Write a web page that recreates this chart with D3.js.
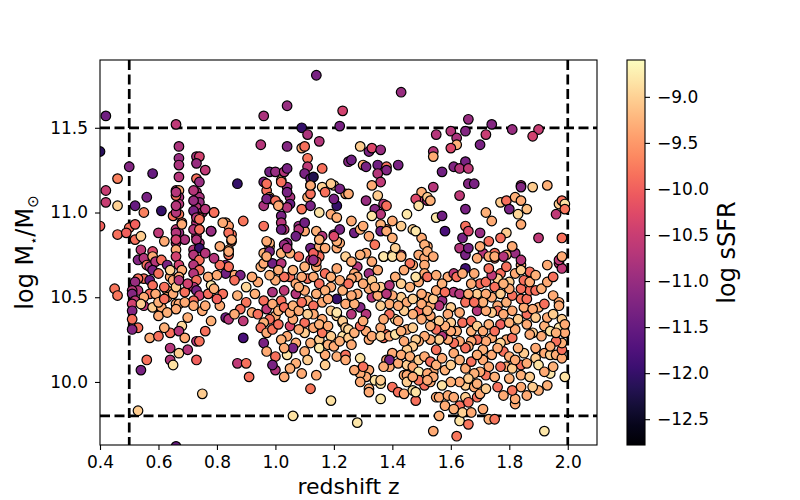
<!DOCTYPE html>
<html>
<head>
<meta charset="utf-8">
<script src="https://cdn.jsdelivr.net/npm/d3@7"></script>
<style>
  body { margin: 0; background: #fff; }
  text { font-family: "DejaVu Sans", sans-serif; fill: #000; }
</style>
</head>
<body>
<svg id="chart" width="800" height="500"></svg>
<script>
// tick values
const xTicks = [0.4, 0.6, 0.8, 1.0, 1.2, 1.4, 1.6, 1.8, 2.0];
const yTicks = [10.0, 10.5, 11.0, 11.5];
const cbTicks = [-12.5, -12.0, -11.5, -11.0, -10.5, -10.0, -9.5, -9.0];

// selection box: mass cuts and redshift cuts
const massCuts = [9.8, 11.5];
const zCuts = [0.5, 2.0];

// galaxies: [redshift, log M*, log sSFR]
const lowZ = [
  [0.42,11.57,-11.4],[0.40,11.36,-12.1],[0.66,11.52,-10.6],[0.50,11.27,-11.2],[0.46,11.20,-9.7],
  [0.58,11.23,-11.5],[0.42,11.13,-10.5],[0.42,11.06,-10.5],[0.40,10.92,-10.0],[0.46,11.04,-9.0],
  [0.52,11.04,-11.5],[0.55,11.00,-9.7],[0.61,11.01,-12.0],[0.56,11.09,-11.3],
  [0.67,11.39,-10.8],[0.67,11.32,-11.0],[0.67,11.28,-10.8],[0.67,11.21,-10.7],[0.66,11.13,-10.6],
  [0.67,11.13,-9.35],[0.67,11.09,-10.8],[0.67,11.05,-10.7],[0.65,10.98,-9.85],[0.67,10.99,-9.8],
  [0.68,10.94,-9.8],[0.66,10.90,-10.6],[0.67,10.88,-11.0],[0.66,10.84,-10.7],[0.69,10.84,-10.8],
  [0.73,11.33,-10.8],[0.74,11.33,-10.4],[0.73,11.29,-11.0],[0.76,11.25,-10.6],[0.73,11.20,-9.85],
  [0.74,11.18,-11.0],[0.73,11.12,-10.7],[0.74,11.09,-10.8],[0.74,11.06,-11.0],[0.73,11.03,-10.7],
  [0.75,11.00,-10.8],[0.73,10.98,-11.3],[0.74,10.97,-10.0],[0.73,10.94,-10.7],[0.74,10.90,-9.8],
  [0.73,10.86,-10.7],[0.74,10.82,-10.7],
  [0.79,11.00,-9.05],[0.78,10.89,-11.4],[0.76,11.02,-10.7],[0.83,10.94,-9.35],[0.84,10.92,-9.45],
  [0.85,10.87,-9.8],[0.85,10.83,-9.85],[0.87,11.17,-12.0],[0.89,10.95,-9.8],
  [0.46,10.87,-9.85],[0.50,10.91,-9.85],[0.49,10.88,-10.0],[0.52,10.93,-10.0],[0.52,10.84,-9.85],
  [0.54,10.86,-9.05],[0.60,10.88,-10.6],[0.62,10.83,-9.35],[0.54,10.78,-10.6],[0.53,10.72,-11.2],
  [0.55,10.73,-10.7],[0.58,10.77,-10.3],[0.58,10.74,-9.35],[0.56,10.69,-9.85],[0.57,10.68,-10.7],
  [0.59,10.71,-10.7],[0.61,10.72,-9.85],[0.63,10.69,-11.3],[0.58,10.66,-11.3],[0.60,10.64,-9.85],
  [0.55,10.61,-9.85],[0.53,10.61,-9.85],[0.52,10.59,-11.0],[0.53,10.54,-10.7],[0.57,10.60,-11.5],
  [0.58,10.57,-9.85],[0.57,10.52,-9.85],[0.55,10.50,-9.35],
  [0.45,10.55,-9.8],[0.46,10.51,-9.8],[0.51,10.54,-10.7],[0.51,10.52,-11.2],[0.52,10.48,-10.6],
  [0.51,10.46,-10.4],[0.51,10.42,-11.2],[0.51,10.37,-9.85],[0.53,10.32,-9.85],[0.51,10.31,-11.2],
  [0.57,10.26,-9.35],[0.55,10.45,-10.6],[0.58,10.44,-9.05],[0.61,10.43,-9.85],[0.56,10.13,-9.85],
  [0.54,10.07,-11.3],[0.53,9.83,-9.05],[0.64,10.20,-10.7],[0.64,10.13,-10.7],[0.65,10.10,-8.85],
  [0.67,10.17,-9.05],[0.64,10.29,-9.85],[0.68,10.33,-8.95],[0.67,10.30,-10.7],[0.73,10.24,-10.7],
  [0.74,10.24,-9.85],[0.73,10.13,-10.0],[0.75,9.93,-9.05],[0.66,9.62,-11.5],
  [0.54,10.46,-9.05],[0.61,10.44,-9.35],[0.63,10.54,-9.35],[0.62,10.56,-9.85],[0.64,10.62,-9.35],
  [0.64,10.66,-9.0],[0.65,10.60,-9.35],[0.63,10.50,-9.35],[0.65,10.52,-9.35],[0.66,10.56,-9.05],
  [0.66,10.46,-9.35],[0.67,10.46,-9.35],[0.66,10.43,-9.35],[0.66,10.82,-10.7],[0.66,10.78,-9.35],
  [0.66,10.74,-10.4],[0.67,10.69,-10.4],[0.68,10.66,-9.35],[0.67,10.62,-9.35],[0.67,10.60,-10.7],
  [0.68,10.93,-9.35],[0.66,11.00,-10.7],[0.66,11.04,-10.7],[0.66,11.10,-9.85],[0.66,11.12,-10.7],
  [0.66,10.88,-10.7],[0.66,10.84,-10.4],
  [0.72,11.13,-10.7],[0.72,11.07,-11.0],[0.72,11.01,-11.3],[0.73,10.97,-10.7],[0.74,10.96,-9.85],
  [0.72,10.90,-10.7],[0.74,10.90,-9.85],[0.73,10.84,-10.7],[0.72,10.78,-10.7],[0.74,10.79,-12.0],
  [0.72,10.75,-10.7],[0.74,10.72,-9.85],[0.72,10.69,-10.7],[0.74,10.66,-9.85],[0.72,10.64,-10.7],
  [0.73,10.60,-9.85],[0.72,10.56,-10.7],[0.73,10.54,-11.3],[0.74,10.51,-10.4],[0.72,10.48,-9.85],
  [0.72,10.45,-9.35],[0.75,10.42,-9.35],
  [0.76,10.76,-10.7],[0.77,10.62,-9.35],[0.78,10.57,-8.8],[0.78,10.89,-11.0],[0.79,11.00,-9.85],
  [0.82,10.94,-9.35],[0.84,10.88,-9.85],[0.85,10.84,-9.35],[0.84,10.78,-9.35],[0.84,10.75,-9.85],
  [0.83,10.69,-11.3],[0.86,10.63,-9.35],[0.88,10.63,-11.3],[0.83,10.64,-11.4],[0.90,10.56,-8.95],
  [0.86,10.60,-9.85],
  [0.87,10.11,-10.6],[0.90,10.11,-9.85],[0.91,10.03,-9.85],[0.89,10.26,-11.8],[0.83,10.38,-11.4],
  [0.84,10.37,-10.7],[0.81,10.45,-9.35],[0.82,10.52,-9.85],[0.80,10.49,-10.0],[0.84,10.68,-9.85],
  [0.84,10.77,-9.35],[0.90,10.47,-9.8],[0.89,10.36,-10.6],
  [0.59,10.52,-9.35],[0.60,10.47,-9.3],[0.62,10.49,-9.85],[0.60,10.39,-9.35],[0.63,10.41,-9.3],
  [0.69,10.47,-9.35],[0.69,10.53,-9.85],[0.70,10.58,-10.4],[0.70,10.38,-9.3],[0.76,10.45,-9.35],
  [0.77,10.52,-9.85],[0.79,10.55,-9.3],[0.80,10.63,-9.35],[0.81,10.69,-9.85],[0.79,10.73,-10.7],
  [0.81,10.80,-9.35],[0.87,10.51,-9.3],[0.88,10.43,-9.85],[0.86,10.40,-9.35],[0.78,10.36,-9.3],
  [0.76,10.30,-9.85],[0.69,10.26,-9.35],[0.70,10.19,-10.7],[0.62,10.32,-9.3],[0.60,10.27,-9.85]
];

const midZ = [
  [0.92,10.41,-9.35],[0.94,10.59,-9.35],[0.96,10.48,-9.85],[0.97,10.43,-10.6],[0.95,10.68,-9.3],
  [0.96,10.70,-9.35],[0.99,10.70,-11.4],[0.98,10.80,-9.3],[0.96,10.76,-9.3],[1.02,10.70,-10.7],
  [1.04,10.81,-11.3],[1.05,10.62,-9.8],[1.07,10.58,-9.35],[1.07,10.52,-10.7],[1.10,10.54,-9.35],
  [1.11,10.48,-9.3],[1.03,10.54,-10.6],[0.99,10.53,-10.8],[1.02,10.48,-9.85],[1.00,10.39,-9.35],
  [0.98,10.37,-9.85],[0.96,10.35,-9.3],[0.95,10.32,-9.85],[0.97,10.29,-9.35],[0.99,10.31,-9.8],
  [0.96,10.23,-11.3],[1.00,10.15,-9.85],[1.04,10.27,-9.35],[1.05,10.33,-10.3],[1.07,10.23,-9.35],
  [1.10,10.29,-9.05],[1.10,10.35,-9.85],[1.06,10.37,-9.35],[1.12,10.23,-9.3],[1.13,10.32,-9.35],
  [1.15,10.25,-9.05],[1.16,10.29,-9.8],[1.16,10.37,-9.35],[1.19,10.42,-9.05],[1.21,10.39,-8.95],
  [1.21,10.49,-12.0],[1.21,10.41,-8.8],[1.23,10.35,-8.8],[1.16,10.47,-9.35],[1.19,10.56,-9.35],
  [1.11,10.61,-9.85],[1.14,10.68,-9.35],[1.17,10.64,-9.85],[1.21,10.67,-9.35],[1.12,10.72,-10.7],
  [1.15,10.74,-9.85],[1.21,10.79,-9.35],[1.22,10.82,-9.35],
  [1.00,10.07,-10.7],[1.03,10.03,-9.35],[1.04,10.16,-8.85],[1.07,10.11,-9.3],[1.06,9.80,-8.85],
  [1.12,9.96,-9.8],[1.19,9.89,-8.85],[1.14,10.04,-9.35],[1.17,10.10,-9.05],[1.17,10.16,-9.35],
  [1.21,10.15,-9.3],[1.06,10.20,-11.3],[0.99,10.10,-11.3],[1.15,10.20,-8.8],[1.24,10.16,-9.85],
  [1.24,10.13,-9.35],[1.29,10.14,-8.85],[1.29,10.07,-9.35],[1.30,10.04,-9.85],[1.32,10.07,-9.35],
  [1.34,10.01,-8.85],[1.36,9.99,-8.85],[1.32,9.96,-9.35],[1.40,9.97,-9.85],[1.39,10.09,-9.35],
  [1.40,10.17,-9.35],[1.38,10.13,-9.35],[1.37,10.26,-9.85],[1.38,10.28,-9.85],[1.36,10.32,-9.35],
  [1.41,10.37,-8.85],[1.32,10.25,-9.35],[1.28,9.76,-8.8],[1.32,9.94,-9.35],[1.36,9.90,-8.8],
  [1.31,10.03,-9.35],[1.29,10.05,-9.35],[1.27,10.07,-9.35],[1.29,10.00,-9.35],[1.30,10.09,-9.85],
  [1.39,10.13,-11.3],[1.37,10.09,-9.35],[1.42,10.11,-9.35],[1.36,10.01,-9.05],[1.42,9.94,-9.85],
  [1.44,9.93,-9.35],[1.44,10.04,-9.35],
  [1.28,10.68,-10.7],[1.32,10.64,-11.0],[1.33,10.71,-9.35],[1.37,10.74,-9.35],[1.40,10.75,-9.35],
  [1.43,10.75,-10.6],[1.33,10.50,-10.7],[1.32,10.55,-9.35],[1.29,10.44,-11.2],[1.26,10.40,-10.7],
  [1.24,10.46,-9.35],[1.28,10.52,-9.35],[1.27,10.64,-9.35],[1.31,10.30,-9.35],[1.33,10.27,-9.35],
  [1.36,10.27,-9.05],[1.39,10.27,-9.35],[1.23,10.27,-8.85],[1.23,10.36,-9.05],[1.24,10.32,-9.05],
  [1.25,10.31,-8.95],[1.43,10.50,-9.05],[1.40,10.51,-9.35],[1.39,10.46,-9.35],[1.39,10.40,-9.85],
  [1.42,10.36,-9.35],[1.37,10.37,-9.35],[1.36,10.45,-9.05],[1.35,10.51,-9.35],[1.36,10.56,-9.05],
  [1.39,10.57,-10.7],[1.38,10.52,-10.7],[1.31,10.40,-10.7],[1.28,10.62,-9.35],[1.26,10.61,-9.35],
  [1.14,11.81,-11.3],[1.04,11.63,-11.0],[0.96,11.57,-10.8],[1.23,11.60,-10.4],[1.09,11.50,-12.0],
  [1.22,11.51,-11.3],[1.11,11.46,-10.8],[1.15,11.42,-10.7],[0.95,11.40,-10.7],[1.04,11.39,-11.2],
  [1.09,11.38,-9.35],[1.10,11.39,-9.85],[1.25,11.30,-11.2],
  [0.96,11.04,-10.8],[0.96,11.18,-11.3],[0.97,11.13,-9.85],[0.98,11.09,-9.35],[0.98,11.24,-11.4],
  [1.00,11.24,-11.0],[1.02,11.19,-9.3],[1.03,11.24,-10.7],[1.04,11.26,-11.3],[1.04,11.15,-11.0],
  [1.05,11.09,-10.8],[1.05,11.05,-11.5],[1.01,11.05,-9.85],[0.98,11.08,-11.7],[1.02,10.98,-11.3],
  [1.02,10.94,-10.7],[1.03,10.90,-10.6],[0.98,10.82,-9.3],[1.04,10.82,-11.2],
  [1.11,11.32,-9.8],[1.11,11.27,-10.6],[1.10,11.23,-11.3],[1.12,11.20,-11.5],[1.12,11.16,-10.6],
  [1.16,11.26,-9.85],[1.11,11.09,-9.35],[1.09,11.02,-9.8],[1.12,11.04,-11.3],[1.15,11.00,-8.85],
  [1.16,11.15,-9.0],[1.20,11.16,-8.95],[1.19,10.99,-9.35],[1.21,11.04,-12.0],[1.21,10.97,-9.3],
  [1.24,11.11,-9.45],[1.08,10.92,-11.0],[1.10,10.89,-9.35],[1.14,10.89,-9.3],[1.16,10.86,-10.7],
  [1.20,10.87,-11.3],[1.21,10.83,-9.3],
  [0.96,10.92,-9.85],[1.02,10.90,-11.4],[0.97,10.83,-9.35],[1.03,10.81,-11.0],[0.98,10.77,-11.3],
  [0.97,10.74,-9.35],[1.02,10.76,-9.3],[1.05,10.76,-9.3],[1.04,10.79,-10.7],[1.08,10.90,-10.7],
  [1.07,10.86,-11.4],[1.10,10.94,-11.4],[1.08,10.74,-9.85],[1.12,10.79,-11.4],[1.13,10.76,-10.0],
  [1.14,10.71,-9.85],[1.13,10.72,-11.0],[1.15,10.80,-9.3],[1.17,10.79,-9.35],[1.15,10.84,-9.3],
  [1.22,10.90,-11.3],[1.20,10.86,-10.3],[1.24,10.74,-9.0],[1.27,10.88,-11.4],[1.29,10.90,-9.3],
  [1.32,10.86,-9.35],[1.34,10.81,-9.8],[1.31,10.76,-9.35],[1.38,10.90,-9.8],[1.41,10.79,-9.0],
  [1.37,10.74,-8.8],[1.40,10.74,-8.85],[1.43,10.74,-9.3],
  [0.97,11.17,-9.85],[1.02,11.18,-9.85],[1.04,11.12,-11.3],[0.97,11.08,-11.3],[1.00,11.07,-9.85],
  [1.04,11.03,-10.7],[1.01,11.04,-9.35],[1.12,11.11,-9.85],[1.13,11.21,-12.2],[1.12,11.16,-9.35],
  [1.19,11.17,-9.05],[1.17,11.12,-9.85],[1.22,11.14,-11.3],[1.25,11.11,-9.35],[1.20,11.08,-11.3],
  [1.26,10.95,-9.35],
  [1.26,11.31,-11.4],[1.29,11.39,-9.05],[1.32,11.36,-11.3],[1.33,11.38,-10.3],[1.36,11.37,-11.0],
  [1.30,11.28,-9.35],[1.31,11.27,-11.3],[1.35,11.28,-11.4],[1.38,11.27,-9.85],[1.38,11.25,-11.2],
  [1.35,11.23,-10.7],[1.42,11.28,-11.3],[1.36,11.18,-10.6],[1.33,11.16,-9.35],[1.35,11.10,-9.05],
  [1.31,11.07,-11.0],[1.34,11.02,-11.2],[1.37,11.05,-10.7],[1.38,11.04,-9.85],[1.36,10.99,-10.7],
  [1.33,10.98,-8.85],[1.30,10.92,-9.35],[1.36,10.93,-9.3],[1.36,10.89,-11.4],[1.40,10.95,-9.35],
  [1.43,10.92,-9.05],[1.38,10.89,-9.35],[1.40,10.85,-9.3],[1.43,11.71,-11.0],[1.45,10.99,-8.8],
  [0.99,10.46,-9.35],[1.01,10.42,-9.3],[1.03,10.44,-9.85],[1.05,10.41,-9.35],[1.06,10.45,-9.3],
  [1.08,10.42,-9.35],[1.09,10.47,-9.85],[1.08,10.56,-9.3],[1.09,10.62,-9.35],[1.06,10.66,-9.3],
  [1.03,10.62,-9.85],[1.00,10.60,-9.35],[0.98,10.63,-9.3],[1.01,10.66,-9.35],[1.10,10.68,-9.3],
  [1.13,10.62,-9.35],[1.15,10.58,-9.85],[1.17,10.54,-9.3],[1.18,10.49,-9.35],[1.14,10.52,-9.3],
  [1.13,10.45,-9.85],[1.13,10.40,-9.35],[1.11,10.40,-9.05],[1.15,10.34,-9.3],[1.18,10.33,-9.35],
  [1.19,10.27,-9.05],[1.18,10.22,-9.3],[1.20,10.21,-9.35],[1.22,10.24,-9.3],[1.25,10.26,-9.05],
  [1.26,10.22,-9.35],[1.27,10.29,-9.3],[1.29,10.33,-9.85],[1.30,10.36,-9.35],[1.27,10.46,-9.3],
  [1.26,10.51,-9.35],[1.23,10.54,-9.3],[1.25,10.58,-9.85],[1.22,10.60,-9.35],[1.19,10.62,-9.3],
  [1.26,10.71,-9.35],[1.29,10.75,-9.3],[1.30,10.58,-9.35],[1.33,10.60,-9.05],[1.34,10.56,-9.3],
  [1.35,10.66,-9.35],[1.02,10.25,-9.3],[1.03,10.20,-9.35],[1.01,10.34,-9.85],[1.08,10.31,-9.35],
  [1.10,10.18,-9.3],[1.11,10.13,-9.05],[1.09,10.05,-9.35],[1.05,10.08,-9.3],[0.97,10.18,-9.35],
  [0.94,10.40,-9.85],[0.93,10.52,-9.3],[0.92,10.62,-9.35]
];

const highZ = [
  [1.45,10.04,-9.35],[1.45,10.00,-9.05],[1.47,9.95,-8.85],[1.48,9.89,-9.85],[1.51,9.98,-9.85],
  [1.53,10.00,-9.35],[1.54,10.06,-9.35],[1.45,10.10,-9.05],[1.47,10.09,-9.35],[1.49,10.06,-8.8],
  [1.52,10.05,-9.35],[1.54,10.03,-9.35],[1.49,10.01,-9.8],[1.52,10.01,-9.35],[1.47,10.03,-9.35],
  [1.48,9.94,-8.85],
  [1.55,9.91,-9.35],[1.56,9.91,-9.35],[1.59,9.92,-9.35],[1.61,9.91,-9.35],[1.63,9.86,-9.85],
  [1.65,9.91,-9.05],[1.66,9.88,-9.85],[1.65,9.98,-9.05],[1.68,9.97,-9.35],[1.69,9.91,-9.85],
  [1.71,9.84,-9.35],[1.70,9.93,-9.35],
  [1.54,9.71,-9.35],[1.62,9.68,-9.8],[1.56,9.80,-9.3],[1.63,9.77,-8.85],[1.64,9.82,-9.0],
  [1.66,9.75,-9.8],[1.73,9.78,-9.3],[1.75,9.78,-9.8],[1.92,9.71,-8.8],[1.99,10.03,-8.85],
  [1.94,10.05,-8.8],[1.90,9.95,-9.3],[1.88,9.97,-9.05],[1.82,9.87,-9.35],[1.82,9.90,-9.35],
  [1.84,9.97,-9.35],[1.81,9.95,-9.8],[1.84,10.04,-9.3],[1.84,10.10,-9.85],[1.86,10.11,-9.35],
  [1.85,10.17,-9.05],[1.89,10.14,-9.05],[1.90,10.10,-8.85],[1.92,10.17,-9.35],[1.94,10.16,-9.05],
  [1.96,10.16,-9.35],[1.98,10.14,-9.35],[1.98,10.19,-9.85],[1.98,10.23,-9.3],[1.96,10.24,-9.85],
  [1.94,10.21,-9.35],[1.91,10.27,-9.35],[1.89,10.20,-9.35],[1.88,10.29,-9.05],[1.87,10.28,-9.35],
  [1.86,10.34,-9.35],[1.86,10.40,-9.85],[1.85,10.44,-9.35],[1.90,10.44,-9.3],[1.84,10.49,-9.8],
  [1.86,10.49,-9.85],[1.87,10.54,-9.85],[1.84,10.55,-9.85],[1.85,10.60,-9.85],[1.82,10.64,-9.35],
  [1.84,10.69,-9.35],[1.87,10.65,-9.85],[1.89,10.54,-9.85],[1.95,10.51,-9.35],[1.97,10.47,-9.35],
  [1.97,10.45,-9.35],[1.98,10.37,-9.05],[1.97,10.32,-8.85],[1.99,10.29,-9.35],[1.99,10.34,-9.35],
  [1.93,10.69,-9.35],[1.97,10.70,-10.6],[1.98,10.67,-10.6],[1.82,10.76,-11.0],[1.84,10.72,-10.7],
  [1.81,10.80,-9.35],[1.79,10.75,-9.35],[1.77,10.64,-9.85],[1.76,10.61,-9.05],[1.80,10.59,-9.05],
  [1.75,10.56,-9.85],[1.74,10.50,-9.35],[1.76,10.45,-9.35],[1.76,10.42,-9.85],[1.78,10.40,-9.35],
  [1.74,10.41,-9.05],[1.77,10.34,-10.0],[1.79,10.25,-9.35],[1.78,10.18,-9.85],[1.80,10.15,-9.35],
  [1.79,10.09,-9.35],[1.77,10.09,-9.85],[1.72,10.04,-9.8],[1.70,10.06,-9.35],[1.71,10.13,-9.35],
  [1.74,10.16,-9.35],[1.77,10.23,-9.0],[1.74,10.26,-9.35],[1.72,10.24,-9.35],[1.69,10.25,-9.85],
  [1.67,10.24,-9.35],[1.66,10.21,-9.35],[1.65,10.20,-9.85],[1.63,10.24,-9.35],[1.61,10.23,-9.85],
  [1.59,10.25,-9.35],[1.57,10.27,-10.7],[1.56,10.25,-9.05],[1.55,10.19,-9.85],[1.53,10.25,-9.35],
  [1.51,10.27,-9.35],[1.49,10.24,-9.35],[1.48,10.25,-9.05],[1.47,10.21,-9.05],[1.45,10.19,-9.05],
  [1.43,10.16,-9.35],[1.41,10.28,-8.85],[1.45,10.31,-9.35],[1.47,10.32,-9.05],
  [1.47,10.69,-9.35],[1.49,10.75,-9.35],[1.52,10.80,-9.35],[1.51,10.73,-9.35],[1.51,10.69,-9.35],
  [1.51,10.64,-9.35],[1.52,10.62,-9.85],[1.49,10.59,-9.35],[1.48,10.62,-8.85],[1.55,10.63,-9.35],
  [1.59,10.62,-9.35],[1.61,10.64,-10.6],[1.62,10.62,-9.85],[1.63,10.79,-10.7],[1.65,10.75,-11.3],
  [1.66,10.79,-11.3],[1.65,10.67,-11.9],[1.64,10.64,-9.35],[1.68,10.64,-9.35],[1.70,10.58,-9.85],
  [1.72,10.59,-9.85],[1.74,10.63,-10.6],[1.71,10.76,-10.7],[1.75,10.76,-9.85],[1.75,10.73,-9.85],
  [1.57,10.48,-11.0],[1.56,10.45,-10.7],[1.61,10.53,-10.7],[1.63,10.52,-10.7],[1.65,10.47,-9.85],
  [1.60,10.44,-9.05],[1.63,10.41,-9.35],[1.64,10.35,-9.85],[1.67,10.36,-9.85],[1.69,10.42,-10.7],
  [1.72,10.42,-9.35],[1.70,10.47,-9.35],[1.69,10.52,-9.05],[1.67,10.58,-9.35],
  [1.53,10.39,-9.35],[1.53,10.45,-9.35],[1.52,10.50,-9.35],[1.50,10.52,-9.35],[1.49,10.42,-9.85],
  [1.45,10.47,-9.35],[1.46,10.70,-9.8],[1.50,10.85,-9.35],[1.51,10.81,-9.3],[1.52,10.77,-9.3],
  [1.54,10.74,-9.35],[1.47,10.90,-9.0],[1.49,11.07,-10.6],[1.52,11.07,-10.7],
  [1.66,11.55,-11.0],[1.74,11.52,-11.2],[1.81,11.49,-11.0],[1.90,11.49,-10.5],[1.88,11.45,-10.4],
  [1.55,11.46,-10.7],[1.60,11.48,-10.7],[1.65,11.48,-11.2],[1.62,11.44,-10.8],[1.72,11.46,-10.5],
  [1.62,11.40,-9.3],[1.60,11.38,-10.3],[1.70,11.40,-11.3],[1.54,11.36,-10.7],[1.54,11.33,-9.35],
  [1.57,11.24,-11.4],[1.61,11.27,-11.2],[1.65,11.30,-11.3],[1.63,11.26,-10.7],[1.66,11.26,-10.6],
  [1.66,11.17,-11.2],[1.68,11.17,-11.3],[1.54,11.15,-10.7],[1.50,11.12,-9.3],[1.48,11.08,-10.3],
  [1.52,11.09,-9.05],[1.53,11.07,-9.3],[1.49,11.04,-8.85],[1.63,11.10,-10.6],[1.65,11.02,-11.3],
  [1.55,10.97,-8.8],[1.57,10.98,-11.4],[1.48,10.89,-8.8],[1.58,10.89,-11.8],[1.64,10.85,-11.3],
  [1.65,10.92,-9.85],[1.66,10.89,-10.3],[1.70,10.88,-11.0],[1.72,11.00,-9.3],[1.74,10.95,-9.35],
  [1.77,11.06,-9.05],[1.79,11.07,-9.85],[1.80,11.02,-11.3],[1.82,11.09,-9.3],[1.84,11.07,-9.35],
  [1.83,10.99,-8.95],[1.86,11.02,-9.15],[1.84,10.93,-9.35],[1.79,10.88,-9.05],[1.84,11.16,-10.7],
  [1.84,11.15,-11.2],[1.88,11.15,-9.05],[1.93,11.16,-9.3],[1.90,10.85,-10.6],[1.96,10.99,-10.6],
  [1.97,11.05,-9.05],[1.98,11.07,-9.85],[1.99,11.05,-8.85],[1.99,11.02,-9.8],[1.98,10.85,-9.85],
  [1.73,10.83,-9.85],[1.77,10.85,-9.85],[1.97,10.72,-10.6],[1.98,10.74,-9.35],[1.70,10.80,-9.35],
  [1.69,10.73,-9.35],[1.73,10.74,-9.35],[1.75,10.74,-9.35],[1.78,10.74,-10.7],[1.73,10.67,-9.85],
  [1.79,10.68,-9.85],[1.84,10.66,-9.05],
  [1.41,10.62,-9.3],[1.43,10.58,-9.05],[1.44,10.66,-9.35],[1.46,10.56,-9.3],[1.47,10.49,-9.05],
  [1.50,10.46,-9.35],[1.52,10.42,-9.3],[1.54,10.49,-9.05],[1.55,10.54,-9.35],[1.57,10.58,-9.3],
  [1.58,10.53,-9.85],[1.59,10.40,-9.35],[1.60,10.35,-9.05],[1.62,10.30,-9.3],[1.60,10.30,-9.35],
  [1.58,10.33,-9.3],[1.56,10.36,-9.05],[1.55,10.31,-9.85],[1.53,10.33,-9.3],[1.50,10.37,-9.35],
  [1.47,10.40,-9.3],[1.44,10.42,-9.05],[1.42,10.45,-9.35],[1.43,10.30,-9.3],[1.44,10.24,-9.35],
  [1.46,10.15,-9.3],[1.49,10.13,-9.05],[1.51,10.15,-9.35],[1.53,10.12,-9.85],[1.55,10.10,-9.3],
  [1.57,10.14,-9.35],[1.58,10.07,-9.3],[1.60,10.10,-9.05],[1.61,10.17,-9.35],[1.63,10.13,-9.3],
  [1.65,10.08,-9.35],[1.67,10.12,-9.85],[1.68,10.05,-9.3],[1.66,10.02,-9.05],[1.63,10.00,-9.35],
  [1.60,10.00,-9.3],[1.57,9.98,-8.85],[1.58,9.86,-9.35],[1.61,9.84,-9.3],[1.67,9.82,-9.35],
  [1.69,9.99,-9.3],[1.72,9.96,-9.05],[1.73,10.09,-9.35],[1.75,10.03,-9.3],[1.76,9.97,-9.85],
  [1.78,9.92,-9.35],[1.80,10.02,-9.3],[1.81,10.08,-9.05],[1.82,10.13,-9.35],[1.83,10.20,-9.3],
  [1.81,10.26,-9.85],[1.82,10.31,-9.35],[1.80,10.35,-9.3],[1.83,10.37,-9.05],[1.81,10.42,-9.35],
  [1.79,10.47,-9.3],[1.81,10.51,-9.85],[1.80,10.55,-9.35],[1.78,10.58,-9.3],[1.77,10.52,-9.05],
  [1.72,10.52,-9.35],[1.71,10.47,-9.3],[1.68,10.47,-9.85],[1.66,10.52,-9.35],[1.67,10.30,-9.3],
  [1.69,10.33,-9.05],[1.71,10.30,-9.35],[1.73,10.34,-9.3],[1.75,10.30,-9.85],[1.76,10.20,-9.35],
  [1.71,10.19,-9.3],[1.69,10.16,-9.35],[1.92,10.33,-9.3],[1.93,10.38,-9.35],[1.95,10.40,-9.05],
  [1.92,10.46,-9.85],[1.91,10.55,-9.3],[1.93,10.59,-9.35],[1.95,10.62,-9.85],[1.94,10.30,-8.85],
  [1.96,10.29,-9.3],[1.92,10.06,-9.35],[1.95,10.09,-9.3],[1.87,10.03,-9.05],[1.86,9.92,-9.35],
  [1.93,9.98,-9.3],[1.88,10.43,-9.35],[1.89,10.38,-9.05],[1.87,10.59,-9.35],[1.89,10.63,-9.3]
];

const galaxies = [...lowZ, ...midZ, ...highZ];

const width = 800, height = 500;
const plot = { left: 100, right: 597, top: 60, bottom: 445 };
const cbar = { left: 627, right: 645, top: 60, bottom: 445 };

const svg = d3.select('#chart');

const x = d3.scaleLinear().domain([0.4, 2.1]).range([plot.left, plot.right]);
const y = d3.scaleLinear().domain([9.628, 11.9]).range([plot.bottom, plot.top]);
const cScale = d3.scaleLinear().domain([-12.78, -8.6]).range([cbar.bottom, cbar.top]);
const color = d3.scaleSequential(d3.interpolateMagma).domain([-12.78, -8.6]);

svg.append('defs').append('clipPath').attr('id', 'clip')
  .append('rect')
  .attr('x', plot.left).attr('y', plot.top)
  .attr('width', plot.right - plot.left).attr('height', plot.bottom - plot.top);

// dashed selection lines (under the points)
const cuts = svg.append('g').attr('clip-path', 'url(#clip)')
  .attr('stroke', '#000').attr('stroke-width', 2.7).attr('stroke-dasharray', '10,4.5');
cuts.selectAll('.hcut').data(massCuts).join('line')
  .attr('x1', plot.left).attr('x2', plot.right)
  .attr('y1', d => y(d)).attr('y2', d => y(d));
cuts.selectAll('.vcut').data(zCuts).join('line')
  .attr('y1', plot.top).attr('y2', plot.bottom)
  .attr('x1', d => x(d)).attr('x2', d => x(d));

// points
svg.append('g').attr('clip-path', 'url(#clip)')
  .selectAll('circle')
  .data(galaxies)
  .join('circle')
  .attr('cx', d => x(d[0]))
  .attr('cy', d => y(d[1]))
  .attr('r', 4.8)
  .attr('fill', d => color(d[2]))
  .attr('stroke', '#000')
  .attr('stroke-width', 1.2);

// axes
const fmt1 = d3.format('.1f');
const xAxis = svg.append('g')
  .attr('transform', `translate(0,${plot.bottom})`)
  .call(d3.axisBottom(x).tickValues(xTicks).tickFormat(fmt1).tickSize(5).tickSizeOuter(0).tickPadding(6));
const yAxis = svg.append('g')
  .attr('transform', `translate(${plot.left},0)`)
  .call(d3.axisLeft(y).tickValues(yTicks).tickFormat(fmt1).tickSize(5).tickSizeOuter(0).tickPadding(7));

for (const ax of [xAxis, yAxis]) {
  ax.select('.domain').remove();
  ax.selectAll('.tick line').attr('stroke', '#000').attr('stroke-width', 1.1);
  ax.selectAll('.tick text').attr('font-size', 17).attr('font-family', '"DejaVu Sans", sans-serif').attr('fill', '#000');
}

// frame
svg.append('rect')
  .attr('x', plot.left).attr('y', plot.top)
  .attr('width', plot.right - plot.left).attr('height', plot.bottom - plot.top)
  .attr('fill', 'none').attr('stroke', '#000').attr('stroke-width', 1.1);

// axis labels
svg.append('text')
  .attr('x', (plot.left + plot.right) / 2).attr('y', 494)
  .attr('text-anchor', 'middle').attr('font-size', 22)
  .text('redshift z');

const yl = svg.append('text')
  .attr('transform', `translate(33,${(plot.top + plot.bottom) / 2}) rotate(-90)`)
  .attr('text-anchor', 'middle').attr('font-size', 24);
yl.append('tspan').text('log M');
yl.append('tspan').attr('font-size', 13).attr('dy', 5).text('⋆');
yl.append('tspan').attr('dy', -5).text('/M');
yl.append('tspan').attr('font-size', 15).attr('dy', 5).text('⊙');

// colorbar
const grad = svg.select('defs').append('linearGradient')
  .attr('id', 'cbgrad').attr('x1', 0).attr('y1', 1).attr('x2', 0).attr('y2', 0);
grad.selectAll('stop')
  .data(d3.range(0, 1.0001, 0.05))
  .join('stop')
  .attr('offset', d => d)
  .attr('stop-color', d => d3.interpolateMagma(d));

svg.append('rect')
  .attr('x', cbar.left).attr('y', cbar.top)
  .attr('width', cbar.right - cbar.left).attr('height', cbar.bottom - cbar.top)
  .attr('fill', 'url(#cbgrad)').attr('stroke', '#000').attr('stroke-width', 1.1);

const cAxis = svg.append('g')
  .attr('transform', `translate(${cbar.right},0)`)
  .call(d3.axisRight(cScale).tickValues(cbTicks).tickFormat(fmt1).tickSize(5).tickSizeOuter(0).tickPadding(7));
cAxis.select('.domain').remove();
cAxis.selectAll('.tick line').attr('stroke', '#000').attr('stroke-width', 1.1);
cAxis.selectAll('.tick text').attr('font-size', 17).attr('font-family', '"DejaVu Sans", sans-serif').attr('fill', '#000');

svg.append('text')
  .attr('transform', `translate(735,${(cbar.top + cbar.bottom) / 2}) rotate(-90)`)
  .attr('text-anchor', 'middle').attr('font-size', 24)
  .text('log sSFR');
</script>
</body>
</html>
